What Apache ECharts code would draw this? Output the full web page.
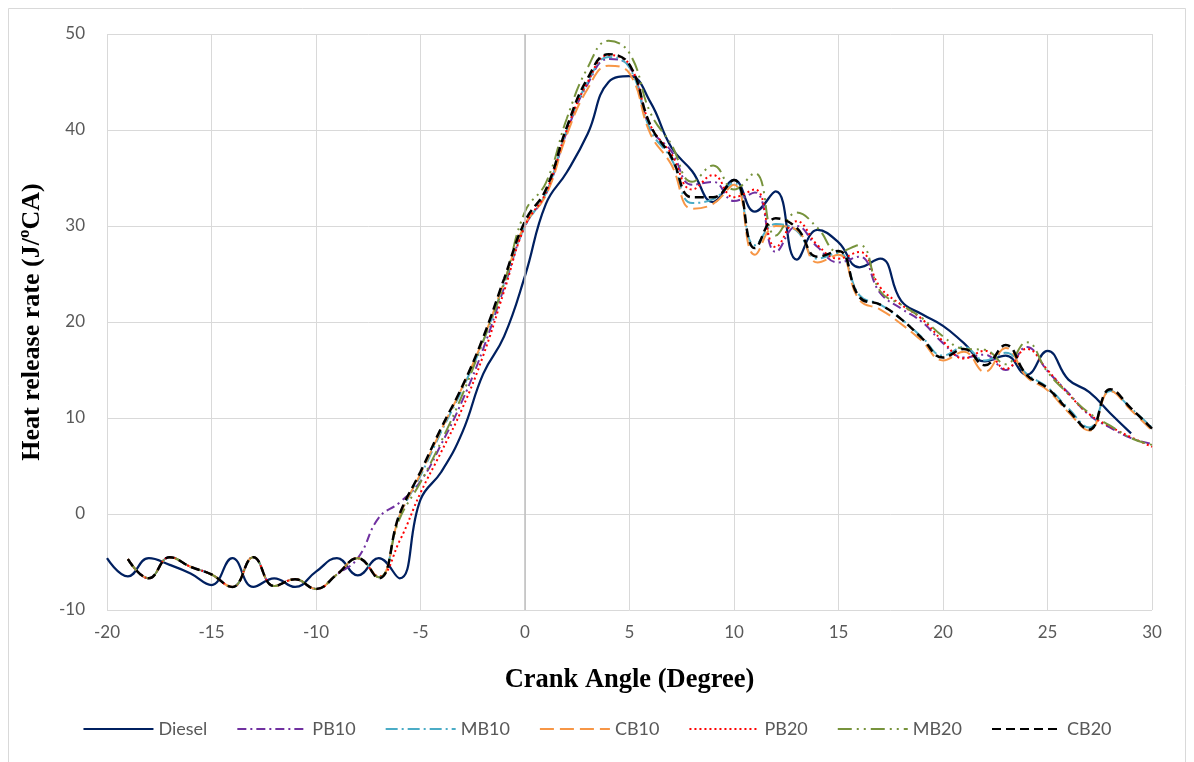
<!DOCTYPE html>
<html>
<head>
<meta charset="utf-8">
<title>Heat release rate</title>
<script src="https://cdn.jsdelivr.net/npm/echarts@6/dist/echarts.min.js"></script>
<style>
  html, body { margin: 0; padding: 0; background: #ffffff; }
  #chart { width: 1194px; height: 762px; }
</style>
</head>
<body>
<div id="chart"></div>
<script>
// Crank angles (degree)
const anglesDiesel = [-20,-19,-18,-17,-16,-15,-14,-13,-12,-11,-10,-9,-8,-7,-6,-5,-4,-3,-2,-1,0,1,2,3,4,5,6,7,8,9,10,11,12,13,14,15,16,17,18,19,20,21,22,23,24,25,26,27,28,29];
const anglesBlend = [-19,-18,-17,-16,-15,-14,-13,-12,-11,-10,-9,-8,-7,-6,-5,-4,-3,-2,-1,0,1,2,3,4,5,6,7,8,9,10,11,12,13,14,15,16,17,18,19,20,21,22,23,24,25,26,27,28,29,30];

// Heat release rate (J/ºCA)
const diesel = [-4.6,-6.5,-4.6,-5.3,-6.2,-7.4,-4.6,-7.6,-6.7,-7.6,-6.0,-4.6,-6.4,-4.6,-6.7,
  1.5,4.4,8.5,14.6,18.5,24.8,
  32.3,35.6,39.6,45.0,45.6,42.9,38.2,35.7,32.5,34.8,
  31.5,33.6,26.5,29.6,28.3,25.7,26.6,22.2,20.8,19.6,
  17.8,15.9,16.5,14.5,17.0,14.0,12.7,10.5,8.4];
const pb10 = [-4.7,-6.7,-4.5,-5.5,-6.3,-7.6,-4.5,-7.5,-6.8,-7.8,-6.3,-4.6,
  -0.4,1.2,3.4,7.3,11.8,17.2,23.6,30.0,
  33.3,39.8,44.8,47.4,46.6,40.2,37.8,34.3,34.6,32.6,
  33.5,27.3,30.0,27.8,26.2,26.8,23.0,21.4,20.0,17.8,
  16.3,16.6,15.0,17.4,14.9,12.6,10.3,9.0,7.9,7.3];
const mb10 = [-4.7,-6.7,-4.5,-5.5,-6.3,-7.6,-4.5,-7.5,-6.8,-7.8,-6.3,-4.6,
  -6.6,-0.2,4.0,8.6,13.0,18.0,24.0,30.0,
  33.4,40.0,45.0,47.6,46.5,40.0,37.0,32.4,32.8,34.5,
  28.0,30.2,29.5,26.6,27.2,22.8,21.8,20.3,18.4,16.5,
  17.4,16.0,16.8,14.6,13.2,11.0,9.0,12.8,11.0,9.0];
const cb10 = [-4.7,-6.7,-4.5,-5.5,-6.3,-7.6,-4.5,-7.5,-6.8,-7.8,-6.3,-4.6,
  -6.6,-0.2,4.2,8.8,13.2,18.2,24.2,30.2,
  33.2,39.5,44.3,46.7,45.9,39.6,36.4,31.8,32.3,34.3,
  27.0,30.0,29.6,26.2,27.0,22.3,21.3,19.8,18.0,16.0,
  16.9,14.8,17.3,14.3,12.9,10.6,8.7,12.8,10.8,8.7];
const pb20 = [-4.7,-6.7,-4.5,-5.5,-6.3,-7.6,-4.5,-7.5,-6.8,-7.8,-6.3,-4.6,
  -6.5,-2.8,2.2,6.5,11.0,16.5,23.2,30.0,
  33.5,40.0,45.0,47.8,46.8,40.5,37.5,33.8,35.3,33.0,
  33.8,27.8,30.5,28.0,26.6,27.3,23.6,21.8,20.3,18.0,
  16.2,17.0,15.1,17.2,15.0,12.5,10.4,9.1,8.0,7.0];
const mb20 = [-4.7,-6.7,-4.5,-5.5,-6.3,-7.6,-4.5,-7.5,-6.8,-7.8,-6.3,-4.6,
  -6.6,-0.5,3.3,7.6,12.4,18.0,24.0,31.5,
  34.5,41.2,46.5,49.3,48.0,41.8,38.5,34.6,36.3,33.8,
  35.5,29.0,31.4,29.8,27.3,28.0,23.2,21.8,20.4,18.5,
  17.2,17.1,15.6,17.9,14.8,12.5,10.5,9.2,7.9,7.2];
const cb20 = [-4.7,-6.7,-4.5,-5.5,-6.3,-7.6,-4.5,-7.5,-6.8,-7.8,-6.3,-4.6,
  -6.7,0.0,4.4,9.0,13.3,18.4,24.5,30.5,
  33.8,40.3,45.4,47.9,46.8,40.5,37.2,33.0,33.0,34.8,
  27.7,30.8,29.8,26.8,27.4,22.6,21.8,20.3,18.3,16.3,
  17.2,15.5,17.6,14.5,13.1,10.8,8.8,13.0,11.0,8.9];

// Axis ticks
const xTicks = { min: -20, max: 30, step: 5 };
const yTicks = { min: -10, max: 50, step: 10 };

const pairs = (xs, ys) => xs.map((x, i) => [x, ys[i]]);

const labelFont = "Lato, 'Open Sans', sans-serif";
const titleFont = "'Liberation Serif', 'DejaVu Serif', serif";

function lineSeries(name, xs, ys, color, type, width) {
  return {
    name: name,
    type: 'line',
    data: pairs(xs, ys),
    smooth: 0.45,
    symbol: 'none',
    showSymbol: false,
    lineStyle: { color: color, width: width, type: type, cap: 'butt' },
    itemStyle: { color: color },
    emphasis: { disabled: true }
  };
}

const chart = echarts.init(document.getElementById('chart'), null, { renderer: 'canvas' });

chart.setOption({
  animation: false,
  backgroundColor: '#ffffff',
  graphic: [{
    type: 'rect',
    shape: { x: 8.5, y: 8.5, width: 1177, height: 800 },
    style: { fill: 'none', stroke: '#d9d9d9', lineWidth: 1 },
    silent: true,
    z: -10
  }],
  grid: { left: 107, right: 42, top: 34, bottom: 152, containLabel: false },
  xAxis: {
    type: 'value',
    min: xTicks.min, max: xTicks.max, interval: xTicks.step,
    name: 'Crank Angle (Degree)',
    nameLocation: 'middle',
    nameGap: 57,
    nameTextStyle: { fontFamily: titleFont, fontWeight: 'bold', fontSize: 26.5, color: '#000000' },
    axisLine: { show: false },
    axisTick: { show: false },
    axisLabel: { color: '#595959', fontFamily: labelFont, fontSize: 17, margin: 14 },
    splitLine: { show: true, lineStyle: { color: '#d9d9d9', width: 1 } }
  },
  yAxis: {
    type: 'value',
    min: yTicks.min, max: yTicks.max, interval: yTicks.step,
    name: 'Heat release rate (J/ºCA)',
    nameLocation: 'middle',
    nameGap: 62,
    nameTextStyle: { fontFamily: titleFont, fontWeight: 'bold', fontSize: 26, color: '#000000' },
    axisLine: { show: false },
    axisTick: { show: false },
    axisLabel: { color: '#595959', fontFamily: labelFont, fontSize: 17, margin: 22 },
    splitLine: { show: true, lineStyle: { color: '#d9d9d9', width: 1 } }
  },
  legend: {
    bottom: 19,
    left: 'center',
    itemWidth: 70,
    itemHeight: 14,
    itemGap: 29,
    itemStyle: { opacity: 0 },
    textStyle: { color: '#595959', fontFamily: labelFont, fontSize: 18 },
    data: ['Diesel', 'PB10', 'MB10', 'CB10', 'PB20', 'MB20', 'CB20']
  },
  series: [
    {
      name: 'zero line',
      type: 'line',
      data: [],
      silent: true,
      markLine: {
        silent: true,
        symbol: 'none',
        label: { show: false },
        lineStyle: { color: '#bfbfbf', width: 1.5, type: 'solid' },
        data: [{ xAxis: 0 }]
      }
    },
    lineSeries('Diesel', anglesDiesel, diesel, '#002060', 'solid', 2.25),
    lineSeries('PB10', anglesBlend, pb10, '#7030a0', [9, 4, 2, 4], 2),
    lineSeries('MB10', anglesBlend, mb10, '#4bacc6', [12, 4, 2, 4], 2),
    lineSeries('CB10', anglesBlend, cb10, '#f79646', [14, 6], 2),
    lineSeries('PB20', anglesBlend, pb20, '#ff0000', [2, 3], 2),
    lineSeries('MB20', anglesBlend, mb20, '#77933c', [14, 5, 2, 5, 2, 5], 2),
    lineSeries('CB20', anglesBlend, cb20, '#000000', [9, 5], 2.5)
  ]
});
</script>
</body>
</html>
